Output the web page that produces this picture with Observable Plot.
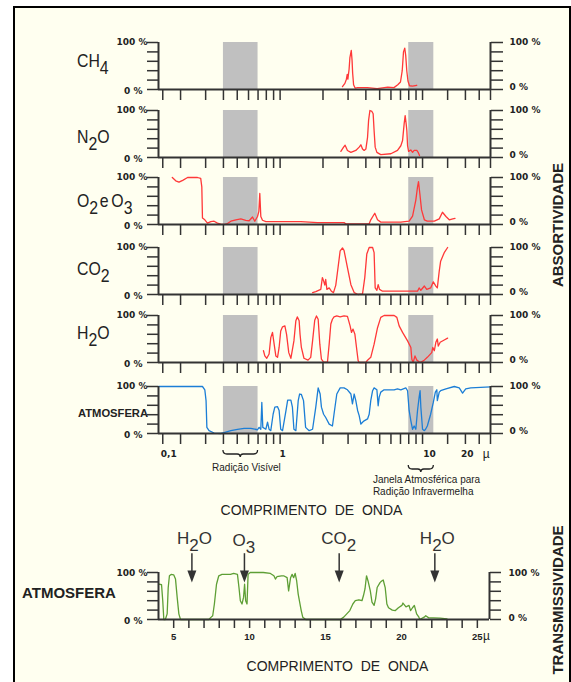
<!DOCTYPE html>
<html><head><meta charset="utf-8">
<script src="https://cdn.jsdelivr.net/npm/d3@7"></script>
<script src="https://cdn.jsdelivr.net/npm/@observablehq/plot@0.6"></script>
<style>
html,body{margin:0;padding:0;background:#fff;}
#root{position:relative;width:571px;height:682px;overflow:hidden;background:#fff;}
#frame{position:absolute;left:13px;top:6px;width:554px;height:720px;border:2px solid #000;border-bottom:none;background:#fffff0;}
</style></head><body><div id="root"><div id="frame"></div></div>
<script>
// ---------- DATA ----------
// x ticks / labels of the absorption panels (wavelength, µm, log scale)
const xDomain = [0.14, 30];
const xTicks = [0.15,0.2,0.3,0.4,0.5,0.6,0.7,0.8,0.9,1,2,3,4,5,6,7,8,9,10,15,20,25,30];
const xTickLabels = ["0,1","1","10","20","µ"];
const xTickLabelAt = [0.165, 1.04, 11.2, 20.6, 28];
const yTicks = [0,20,40,60,80,100];
const pctLabels = ["100 %","0 %"];
const pctValues = [100, 0];
const bands = [[0.4,0.7],[8,12]];   // visible radiation, atmospheric IR window
const bandTexts = ["Radição Visível","Janela Atmosférica para","Radição Infravermelha"];
const bandTextAt = [0.58, 4.48, 4.48];

const ch4 = [[2.74,6],[2.85,13],[2.92,22],[2.96,32],[2.99,22],[3.05,43],[3.09,68],[3.16,83],[3.2,62],[3.23,35],[3.28,10],[3.36,3],[3.5,4],[4.1,4],[4.8,2],[5.7,5],[6.3,4],[6.7,10],[7.0,16],[7.2,40],[7.35,80],[7.5,88],[7.62,72],[7.75,40],[7.9,18],[8.1,8],[8.5,7],[9.1,9]];
const n2o = [[2.67,13],[2.79,22],[2.86,26],[2.97,15],[3.14,11],[3.4,15],[3.59,22],[3.69,27],[3.79,18],[3.89,15],[4.0,18],[4.11,43],[4.18,79],[4.27,100],[4.41,98],[4.5,93],[4.57,57],[4.65,22],[4.78,11],[5.09,6],[5.99,8],[6.67,15],[7.04,25],[7.24,36],[7.43,72],[7.55,89],[7.67,72],[7.76,57],[7.85,25],[7.98,13],[8.27,16],[8.51,11],[8.73,15],[9.12,15],[9.31,11],[9.52,4]];
const o2o3 = [[0.175,100],[0.185,93],[0.195,90],[0.207,94],[0.224,100],[0.263,100],[0.277,98],[0.282,80],[0.285,14],[0.296,10],[0.309,3],[0.326,6],[0.344,7],[0.363,3],[0.383,1],[0.405,0],[0.427,2],[0.451,7],[0.489,10],[0.53,12],[0.574,9],[0.606,8],[0.64,16],[0.664,7],[0.694,17],[0.709,28],[0.72,66],[0.732,17],[0.752,9],[0.794,6],[1.4,6],[1.83,4],[2.81,4],[2.89,1.5],[4.22,1.5],[4.33,10],[4.62,24],[4.83,10],[5.09,5],[7.04,5],[8.05,7],[8.51,18],[8.97,52],[9.22,80],[9.37,91],[9.57,66],[9.84,31],[10.3,10],[10.8,7],[12.1,7],[13.1,12],[13.8,26],[14.6,17],[15.4,10],[16.3,12],[16.9,13]];
const co2 = [[1.69,4],[1.78,6],[1.93,11],[1.98,36],[2.02,29],[2.06,20],[2.09,32],[2.13,11],[2.21,14],[2.29,7],[2.37,4],[2.46,20],[2.55,57],[2.64,93],[2.74,99],[2.81,94],[2.97,57],[3.14,21],[3.31,4],[3.53,0],[3.79,1.5],[3.93,36],[4.06,86],[4.22,100],[4.46,100],[4.57,89],[4.65,14],[4.78,9],[4.88,21],[4.99,11],[5.24,7],[7.04,7],[9.22,7],[9.46,14],[9.73,9],[10.3,18],[10.7,11],[11.4,14],[11.9,27],[12.4,18],[12.7,14],[13.1,50],[13.4,71],[14.2,89],[15.0,100]];
const h2o = [[0.764,25],[0.781,14],[0.806,9],[0.837,18],[0.86,53],[0.884,64],[0.908,39],[0.933,14],[0.959,11],[0.984,32],[1.01,67],[1.04,76],[1.08,78],[1.11,60],[1.15,21],[1.19,9],[1.25,46],[1.29,89],[1.32,97],[1.36,89],[1.38,60],[1.41,32],[1.47,9],[1.57,5],[1.64,11],[1.69,46],[1.75,90],[1.8,99],[1.85,92],[1.9,39],[1.95,7],[2.02,1],[2.15,1],[2.21,39],[2.27,82],[2.33,92],[2.39,97],[2.5,99],[2.64,97],[2.81,99],[2.97,98],[3.1,78],[3.17,64],[3.25,71],[3.35,60],[3.46,25],[3.53,4],[3.6,0],[4.0,0],[4.11,5],[4.33,11],[4.57,39],[4.83,74],[5.09,96],[5.37,100],[6.32,100],[6.6,96],[6.85,78],[7.24,64],[7.85,46],[8.28,32],[8.41,7],[8.59,0],[8.85,14],[9.12,5],[9.61,0],[10.2,4],[10.8,11],[11.6,21],[11.8,32],[12.1,25],[12.4,43],[12.7,50],[12.9,35],[13.3,43],[14.2,48],[15.0,52]];
const atmos = [[0.14,100],[0.285,100],[0.296,93],[0.302,70],[0.306,13],[0.317,6],[0.344,1],[0.383,0],[0.404,2],[0.451,6],[0.502,9],[0.559,11],[0.623,11],[0.694,8],[0.712,13],[0.732,9],[0.744,66],[0.756,13],[0.794,9],[0.816,24],[0.837,9],[0.86,6],[0.893,41],[0.918,56],[0.959,57],[0.984,49],[1.01,9],[1.04,6],[1.1,49],[1.13,71],[1.19,71],[1.22,56],[1.25,9],[1.29,6],[1.34,70],[1.37,84],[1.41,83],[1.46,70],[1.51,13],[1.6,6],[1.69,9],[1.78,56],[1.85,97],[1.91,84],[1.95,56],[2.02,41],[2.09,34],[2.21,20],[2.33,16],[2.39,41],[2.5,84],[2.64,97],[2.81,97],[2.97,93],[3.14,84],[3.22,63],[3.31,84],[3.4,70],[3.5,49],[3.59,38],[3.69,20],[3.79,24],[3.89,27],[4.11,31],[4.22,41],[4.33,70],[4.46,91],[4.57,97],[4.78,93],[4.88,59],[4.96,77],[5.09,88],[5.37,93],[6.32,93],[6.67,95],[7.04,93],[7.63,97],[7.85,91],[8.05,49],[8.28,27],[8.51,9],[8.73,16],[8.97,9],[9.22,49],[9.46,77],[9.61,91],[9.73,56],[10.0,9],[10.3,6],[10.5,9],[10.8,16],[11.4,41],[11.9,66],[12.3,88],[12.6,93],[12.7,70],[13.1,88],[13.4,91],[14.6,95],[16.7,100],[18.1,97],[19.1,86],[20.1,95],[21.8,97],[30,99]];

// transmission panel (linear µm)
const bxDomain = [4, 25.8];
const bxTicks = [5,6,7,8,9,10,11,12,13,14,15,16,17,18,19,20,21,22,23,24,25];
const bxTickLabels = ["5","10","15","20","25","µ"];
const bxTickLabelAt = [5,10,15,20,25,25.6];
const trans = [[4.05,75],[4.2,74],[4.28,40],[4.35,0],[4.45,0],[4.57,12],[4.64,68],[4.72,93],[4.83,96],[5.0,95],[5.12,86],[5.23,47],[5.34,12],[5.45,0],[7.31,0],[7.47,5],[7.57,8],[7.68,33],[7.82,75],[7.97,93],[8.18,96],[8.74,96],[8.95,98],[9.2,96],[9.3,68],[9.39,40],[9.5,33],[9.6,47],[9.67,75],[9.74,40],[9.83,33],[9.9,96],[10.04,100],[10.9,100],[11.37,98],[11.6,93],[11.7,86],[11.8,91],[12.1,93],[12.24,93],[12.47,89],[12.57,61],[12.7,89],[12.8,96],[12.9,89],[13.0,98],[13.1,82],[13.2,54],[13.4,19],[13.5,5],[13.7,0],[15.97,0],[16.2,5],[16.4,12],[16.6,19],[16.8,33],[16.96,40],[17.2,42],[17.4,40],[17.5,51],[17.6,65],[17.7,93],[17.8,82],[17.95,61],[18.06,37],[18.2,30],[18.3,44],[18.4,68],[18.6,79],[18.7,82],[18.8,84],[18.93,68],[19.04,33],[19.15,25],[19.4,20],[19.6,19],[19.8,25],[20.03,30],[20.1,35],[20.3,27],[20.5,30],[20.6,19],[20.73,25],[20.85,30],[21.0,12],[21.15,5],[21.2,0],[21.5,5],[21.6,8],[21.8,3.5],[22.1,3.5],[22.55,3],[23.0,1.5]];
const arrowAt = [6.2, 9.66, 15.9, 22.2];
const arrowNames = [[["H"],["2",1],["O"]], [["O"],["3",1]], [["CO"],["2",1]], [["H"],["2",1],["O"]]];

const gasNames = [[["CH"],["4",1]], [["N"],["2",1],["O"]], [["O"],["2",1],["e",0,2],["O",0,3],["3",1]], [["CO"],["2",1]], [["H"],["2",1],["O"]]];

// ---------- STYLE / LAYOUT ----------
const W = 571, PH = 47, MT = 10;
const AX = "#333", RED = "#ff3838", BLUE = "#1c7ed6", GREEN = "#5e9f35", SHADE = "#c0c0c0";
const FONT = "'Liberation Sans', Arial, sans-serif";
const PFONT = "'DejaVu Sans', Verdana, sans-serif";
const root = document.getElementById("root");
function place(el, top) { el.style.position = "absolute"; el.style.left = "0px"; el.style.top = top + "px"; root.appendChild(el); }

function frameMarks(x0, x1, ticks, tsize, rightTick) {
  return [
    Plot.axisX(ticks, {anchor: "bottom", tickSize: tsize, tickFormat: () => "", stroke: AX, strokeWidth: 1.5, label: null}),
    Plot.axisY(yTicks, {anchor: "left", tickSize: 11, tickFormat: () => "", stroke: AX, strokeWidth: 1.5, label: null}),
    Plot.axisY(yTicks, {anchor: "right", tickSize: rightTick, tickFormat: () => "", stroke: AX, strokeWidth: 1.5, label: null}),
    Plot.ruleY([0], {stroke: AX, strokeWidth: 2}),
    Plot.ruleX([x0, x1], {y1: 0, y2: 100, stroke: AX, strokeWidth: 2}),
    Plot.text(pctLabels, {x: x0, y: (d, i) => pctValues[i], text: d => d, textAnchor: "end",
      dx: (d, i) => 0, fontFamily: PFONT, fontWeight: "bold", fontSize: 9, fill: "#222"}),
  ];
}
function pctText(x0, x1, dyTop, dyBot) {
  return [
    Plot.text([pctLabels[0]], {x: x0, y: pctValues[0], text: d => d, textAnchor: "end", dx: -11, dy: dyTop, fontFamily: PFONT, fontWeight: "bold", fontSize: 9, fill: "#222"}),
    Plot.text([pctLabels[1]], {x: x0, y: pctValues[1], text: d => d, textAnchor: "end", dx: -16, dy: 2, fontFamily: PFONT, fontWeight: "bold", fontSize: 9, fill: "#222"}),
    Plot.text([pctLabels[0]], {x: x1, y: pctValues[0], text: d => d, textAnchor: "start", dx: 19, dy: dyTop, fontFamily: PFONT, fontWeight: "bold", fontSize: 9, fill: "#222"}),
    Plot.text([pctLabels[1]], {x: x1, y: pctValues[1], text: d => d, textAnchor: "start", dx: 19, dy: dyBot, fontFamily: PFONT, fontWeight: "bold", fontSize: 9, fill: "#222"}),
  ];
}

function absPanel(data, color, mb, extra) {
  const m = frameMarks(xDomain[0], xDomain[1], xTicks, 11, 12);
  m.pop();
  return Plot.plot({
    width: W, height: MT + PH + mb, marginTop: MT, marginBottom: mb, marginLeft: 158, marginRight: 81,
    style: {background: "transparent", overflow: "visible", fontFamily: FONT},
    x: {type: "log", domain: xDomain},
    y: {domain: [0, 100]},
    marks: [
      Plot.rect(bands, {x1: d => d[0], x2: d => d[1], y1: 0, y2: 100, fill: SHADE}),
      Plot.line(data, {x: d => d[0], y: d => d[1], stroke: color, strokeWidth: 1.3}),
      ...m,
      ...pctText(xDomain[0], xDomain[1], 0, -2),
      ...extra
    ]
  });
}

const panelTop = [42, 110, 177, 247, 315, 386];
const series = [ch4, n2o, o2o3, co2, h2o, atmos];
const bandTextDy = [34.5, 46.5, 58.5];
const atmosExtra = [
  Plot.text(xTickLabels.slice(0, 4), {x: (d, i) => xTickLabelAt[i], y: 0, dy: 21, text: d => d, fontFamily: PFONT, fontWeight: "bold", fontSize: 9, fill: "#222"}),
  Plot.text(xTickLabels.slice(4), {x: xTickLabelAt[4], y: 0, dy: 21, text: d => d, fontFamily: FONT, fontSize: 12, fill: "#222"}),
  Plot.text(bandTexts, {x: (d, i) => bandTextAt[i], y: 0, dy: (d, i) => 0, text: d => d, fontFamily: FONT, fontSize: 10, fill: "#222",
    textAnchor: (d, i) => i === 0 ? "middle" : "start"})
];
// per-text vertical offsets
const bandTextMarks = bandTexts.map((t, i) => Plot.text([t], {x: bandTextAt[i], y: 0, dy: bandTextDy[i], text: d => d,
  fontFamily: FONT, fontSize: 10, fill: "#222", textAnchor: i === 0 ? "middle" : "start"}));
atmosExtra.pop();
atmosExtra.push(...bandTextMarks);

let atmosPlot;
series.forEach((s, i) => {
  const last = i === 5;
  const p = absPanel(s, last ? BLUE : RED, last ? 100 : 14, last ? atmosExtra : []);
  place(p, panelTop[i] - MT);
  if (last) atmosPlot = p;
});

// braces under the bands
(function () {
  const sx = atmosPlot.scale("x");
  const svg = d3.select(atmosPlot);
  const ys = [450 - (panelTop[5] - MT), 465 - (panelTop[5] - MT)];
  bands.forEach(([a, b], i) => {
    const x0 = sx.apply(a), x1 = sx.apply(b), xm = (x0 + x1) / 2, y0 = ys[i], h = 4;
    const d = `M${x0},${y0} Q${x0},${y0 + h} ${x0 + 4},${y0 + h} L${xm - 3},${y0 + h} Q${xm},${y0 + h} ${xm},${y0 + h + 3} Q${xm},${y0 + h} ${xm + 3},${y0 + h} L${x1 - 4},${y0 + h} Q${x1},${y0 + h} ${x1},${y0}`;
    svg.append("path").attr("d", d).attr("fill", "none").attr("stroke", "#222").attr("stroke-width", 1.3);
  });
})();

// transmission panel
const downTri = {draw(ctx) { ctx.moveTo(-4.5, -2); ctx.lineTo(4.5, -2); ctx.lineTo(0, 10); ctx.closePath(); }};
const BMT = 30, BTOP = 572;
const botM = frameMarks(bxDomain[0], bxDomain[1], bxTicks, 9, 11); botM.pop();
const bot = Plot.plot({
  width: W, height: BMT + PH + 25, marginTop: BMT, marginBottom: 25, marginLeft: 158, marginRight: 82,
  style: {background: "transparent", overflow: "visible", fontFamily: FONT},
  x: {domain: bxDomain},
  y: {domain: [0, 100]},
  marks: [
    Plot.line(trans, {x: d => d[0], y: d => d[1], stroke: GREEN, strokeWidth: 1.3}),
    ...botM,
    ...pctText(bxDomain[0], bxDomain[1], 1, -1),
    Plot.text(bxTickLabels.slice(0, 5), {x: (d, i) => bxTickLabelAt[i], y: 0, dy: 17.5, text: d => d, fontFamily: FONT, fontWeight: "bold", fontSize: 9.5, fill: "#222"}),
    Plot.text(bxTickLabels.slice(5), {x: bxTickLabelAt[5], y: 0, dy: 17, text: d => d, fontFamily: FONT, fontSize: 12, fill: "#222"}),
    Plot.ruleX(arrowAt, {y1: 140, y2: 96, stroke: "#333", strokeWidth: 1.5}),
    Plot.dot(arrowAt, {x: d => d, y: 100, symbol: downTri, fill: "#333", stroke: "none", r: 5})
  ]
});
place(bot, BTOP - BMT);

// ---------- TEXT OVERLAY ----------
const ov = d3.select(root).append("svg").attr("width", W).attr("height", 682)
  .style("position", "absolute").style("left", "0px").style("top", "0px").style("pointer-events", "none")
  .style("font-family", FONT);
function rich(g, segs, off) {
  const t = g.append("text");
  let low = false;
  segs.forEach(([s, sub, dx]) => {
    const ts = t.append("tspan").text(s);
    let dy = 0;
    if (sub && !low) { dy = off; low = true; } else if (!sub && low) { dy = -off; low = false; }
    if (dy) ts.attr("dy", dy);
    if (dx) ts.attr("dx", dx);
  });
  return t;
}
const nameBase = [67, 142.5, 207, 275, 339];
gasNames.forEach((segs, i) => {
  const g = ov.append("g").attr("transform", `translate(77,${nameBase[i]}) scale(0.88,1)`);
  rich(g, segs, 7).attr("font-size", 18).attr("fill", "#222");
});
ov.append("text").attr("x", 78).attr("y", 417).attr("font-size", 11.2).attr("font-weight", "bold").attr("fill", "#222").text("ATMOSFERA");
ov.append("text").attr("x", 22).attr("y", 598).attr("font-size", 15).attr("font-weight", "bold").attr("fill", "#222").text("ATMOSFERA");
ov.append("text").attr("transform", "translate(563,225) rotate(-90)").attr("text-anchor", "middle")
  .attr("font-size", 15).attr("font-weight", "bold").attr("fill", "#222").text("ABSORTIVIDADE");
ov.append("text").attr("transform", "translate(563,600) rotate(-90)").attr("text-anchor", "middle")
  .attr("font-size", 15).attr("font-weight", "bold").attr("fill", "#222").text("TRANSMISSIVIDADE");
ov.append("text").attr("x", 311.5).attr("y", 515).attr("text-anchor", "middle").attr("font-size", 14).attr("fill", "#222")
  .style("white-space", "pre").attr("xml:space", "preserve").text("COMPRIMENTO  DE  ONDA");
ov.append("text").attr("x", 337.5).attr("y", 670.5).attr("text-anchor", "middle").attr("font-size", 14).attr("fill", "#222")
  .style("white-space", "pre").attr("xml:space", "preserve").text("COMPRIMENTO  DE  ONDA");
const bsx = bot.scale("x");
arrowAt.forEach((v, i) => {
  const g = ov.append("g").attr("transform", `translate(${bsx.apply(v) + (i === 0 || i === 3 ? 3 : 0)},${i === 1 ? 546 : 543.5})`);
  rich(g, arrowNames[i], 7).attr("font-size", 17).attr("fill", "#333").attr("text-anchor", "middle");
});
</script></body></html>
